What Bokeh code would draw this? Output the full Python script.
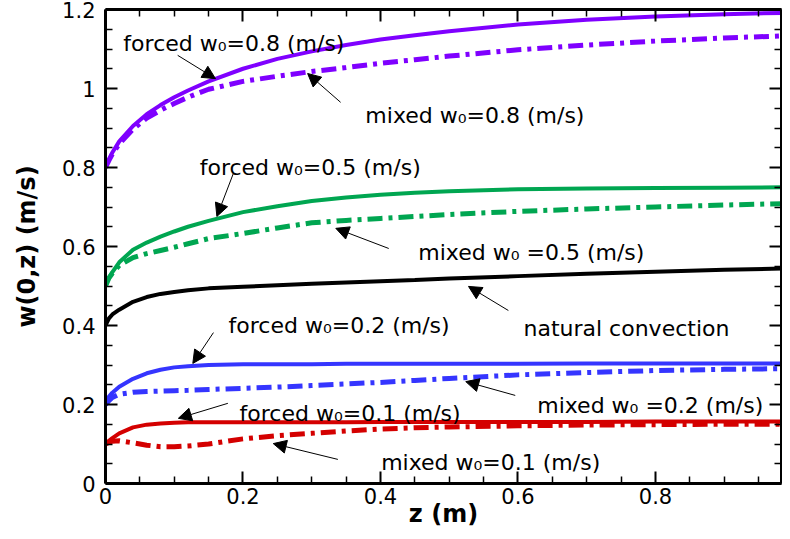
from bokeh.plotting import figure
from bokeh.models import (LinearAxis, FixedTicker, Range1d, Arrow, NormalHead,
                          CustomJSTickFormatter, ColumnDataSource)
from bokeh.core.properties import value
from bokeh.embed import file_html
from bokeh.resources import INLINE

# ---------------- data ----------------
z = [0, 0.005, 0.01, 0.02, 0.04, 0.06, 0.08, 0.1, 0.12, 0.15, 0.2, 0.25,
     0.3, 0.35, 0.4, 0.45, 0.5, 0.6, 0.7, 0.8, 0.9, 1.0]

forced_08 = [0.8, 0.82, 0.838, 0.866, 0.905, 0.935, 0.958, 0.978, 0.995, 1.018, 1.05, 1.075,
             1.094, 1.11, 1.124, 1.135, 1.145, 1.162, 1.174, 1.182, 1.188, 1.192]
mixed_08 = [0.8, 0.818, 0.834, 0.86, 0.897, 0.925, 0.945, 0.962, 0.978, 0.998, 1.018, 1.031,
            1.043, 1.053, 1.064, 1.073, 1.082, 1.098, 1.11, 1.12, 1.128, 1.134]
forced_05 = [0.5, 0.522, 0.535, 0.56, 0.592, 0.61, 0.625, 0.638, 0.65, 0.665, 0.687, 0.702,
             0.715, 0.724, 0.731, 0.736, 0.74, 0.745, 0.747, 0.748, 0.749, 0.75]
mixed_05 = [0.5, 0.52, 0.532, 0.552, 0.572, 0.582, 0.59, 0.598, 0.607, 0.62, 0.633, 0.647,
            0.66, 0.666, 0.671, 0.676, 0.681, 0.689, 0.695, 0.7, 0.705, 0.709]
natural = [0.4, 0.418, 0.428, 0.44, 0.46, 0.472, 0.48, 0.485, 0.489, 0.494, 0.498, 0.502,
           0.506, 0.509, 0.512, 0.515, 0.519, 0.525, 0.531, 0.536, 0.541, 0.545]
forced_02 = [0.2, 0.22, 0.23, 0.245, 0.265, 0.279, 0.288, 0.294, 0.297, 0.3, 0.302, 0.302,
             0.302, 0.303, 0.303, 0.303, 0.303, 0.303, 0.304, 0.304, 0.304, 0.304]
mixed_02 = [0.2, 0.21, 0.218, 0.226, 0.231, 0.233, 0.234, 0.235, 0.236, 0.238, 0.241, 0.244,
            0.248, 0.252, 0.256, 0.261, 0.266, 0.275, 0.281, 0.286, 0.289, 0.291]
forced_01 = [0.1, 0.108, 0.115, 0.127, 0.142, 0.149, 0.152, 0.154, 0.155, 0.155, 0.155, 0.155,
             0.155, 0.155, 0.156, 0.156, 0.156, 0.156, 0.156, 0.157, 0.157, 0.157]
mixed_01 = [0.1, 0.104, 0.107, 0.108, 0.103, 0.097, 0.093, 0.093, 0.095, 0.1, 0.113, 0.121,
            0.127, 0.133, 0.138, 0.141, 0.143, 0.146, 0.148, 0.149, 0.15, 0.15]

series_names = ["forced_08", "mixed_08", "forced_05", "mixed_05", "natural",
                "forced_02", "mixed_02", "forced_01", "mixed_01"]
series_values = [forced_08, mixed_08, forced_05, mixed_05, natural,
                 forced_02, mixed_02, forced_01, mixed_01]
series_colors = ["#7f00ff", "#7f00ff", "#00a651", "#00a651", "#000000",
                 "#3535ff", "#3535ff", "#d40000", "#d40000"]
series_dashed = [False, True, False, True, False, False, True, False, True]

# tick positions
x_major = [0, 0.2, 0.4, 0.6, 0.8]
x_minor = [0.05, 0.1, 0.15, 0.25, 0.3, 0.35, 0.45, 0.5, 0.55, 0.65, 0.7, 0.75, 0.85, 0.9, 0.95]
y_major = [0, 0.2, 0.4, 0.6, 0.8, 1.0, 1.2]
y_minor = [0.05, 0.1, 0.15, 0.25, 0.3, 0.35, 0.45, 0.5, 0.55, 0.65, 0.7, 0.75,
           0.85, 0.9, 0.95, 1.05, 1.1, 1.15]

# annotation texts and anchor points (data units)
label_texts = ["forced w\u2080=0.8 (m/s)", "mixed  w\u2080=0.8 (m/s)", "forced w\u2080=0.5 (m/s)",
               "mixed w\u2080 =0.5 (m/s)", "natural convection", "forced  w\u2080=0.2 (m/s)",
               "mixed w\u2080 =0.2 (m/s)", "forced  w\u2080=0.1 (m/s)", "mixed  w\u2080=0.1 (m/s)"]
label_x = [0.026, 0.378, 0.137, 0.455, 0.608, 0.179, 0.628, 0.195, 0.401]
label_y = [1.114, 0.932, 0.800, 0.585, 0.392, 0.400, 0.197, 0.177, 0.053]

arrow_x0 = [0.105, 0.342, 0.186, 0.412, 0.586, 0.157, 0.596, 0.178, 0.338]
arrow_y0 = [1.084, 0.965, 0.785, 0.595, 0.438, 0.382, 0.223, 0.203, 0.061]
arrow_x1 = [0.160, 0.294, 0.162, 0.335, 0.528, 0.127, 0.524, 0.106, 0.244]
arrow_y1 = [1.025, 1.038, 0.676, 0.646, 0.499, 0.304, 0.258, 0.165, 0.101]

x_label = "z (m)"
y_label = "w(0,z) (m/s)"

# ---------------- figure ----------------
p = figure(width=782, height=531, output_backend="svg", toolbar_location=None,
           x_range=Range1d(0, 0.9833), y_range=Range1d(0, 1.2),
           x_axis_location=None, y_axis_location=None,
           min_border_left=105, min_border_right=1, min_border_top=9, min_border_bottom=48)
p.grid.visible = False
p.outline_line_color = None
p.background_fill_color = "white"
p.border_fill_color = "white"

fmt = CustomJSTickFormatter(code="return String(Math.round(tick*10)/10);")

def make_axis(major, minor, show_labels, label=None):
    ax = LinearAxis(ticker=FixedTicker(ticks=major, minor_ticks=minor), formatter=fmt)
    ax.axis_line_width = 3
    ax.axis_line_color = "black"
    ax.major_tick_in = 12
    ax.major_tick_out = 0
    ax.minor_tick_in = 7
    ax.minor_tick_out = 0
    ax.major_tick_line_width = 2
    ax.minor_tick_line_width = 1.5
    ax.major_tick_line_color = "black"
    ax.minor_tick_line_color = "black"
    if show_labels:
        ax.major_label_text_font = "DejaVu Sans"
        ax.major_label_text_font_size = "21px"
        ax.major_label_text_color = "black"
    else:
        ax.major_label_text_font_size = "1px"
        ax.major_label_text_color = None
        ax.major_label_standoff = 0
    if label:
        ax.axis_label = label
        ax.axis_label_text_font = "DejaVu Sans"
        ax.axis_label_text_font_style = "bold"
        ax.axis_label_text_font_size = "24px"
        ax.axis_label_text_color = "black"
    return ax

bottom = make_axis(x_major, x_minor, True, x_label)
bottom.major_label_standoff = 4
bottom.axis_label_standoff = -7
left = make_axis(y_major, y_minor, True, y_label)
left.major_label_standoff = 10
left.axis_label_standoff = 18
top = make_axis(x_major, x_minor, False)
right = make_axis(y_major, y_minor, False)
p.add_layout(bottom, "below")
p.add_layout(left, "left")
p.add_layout(top, "above")
p.add_layout(right, "right")

for name, vals, col, dashed in zip(series_names, series_values, series_colors, series_dashed):
    src = ColumnDataSource(dict(z=z, w=vals))
    if dashed:
        p.line("z", "w", source=src, line_color=col, line_width=5,
               line_dash="15 6 4 6", line_cap="butt")
    else:
        p.line("z", "w", source=src, line_color=col, line_width=4)

lab_src = ColumnDataSource(dict(x=label_x, y=label_y, t=label_texts))
p.text("x", "y", text="t", source=lab_src, text_font=value("DejaVu Sans"),
       text_font_size="22px", text_color="black", text_align="left",
       text_baseline="alphabetic")

for xa, ya, xb, yb in zip(arrow_x0, arrow_y0, arrow_x1, arrow_y1):
    p.add_layout(Arrow(end=NormalHead(size=13, fill_color="black", line_color="black",
                                      line_width=1),
                       x_start=xa, y_start=ya, x_end=xb, y_end=yb,
                       line_color="black", line_width=1))

open("out.html", "w").write(file_html(p, INLINE))
